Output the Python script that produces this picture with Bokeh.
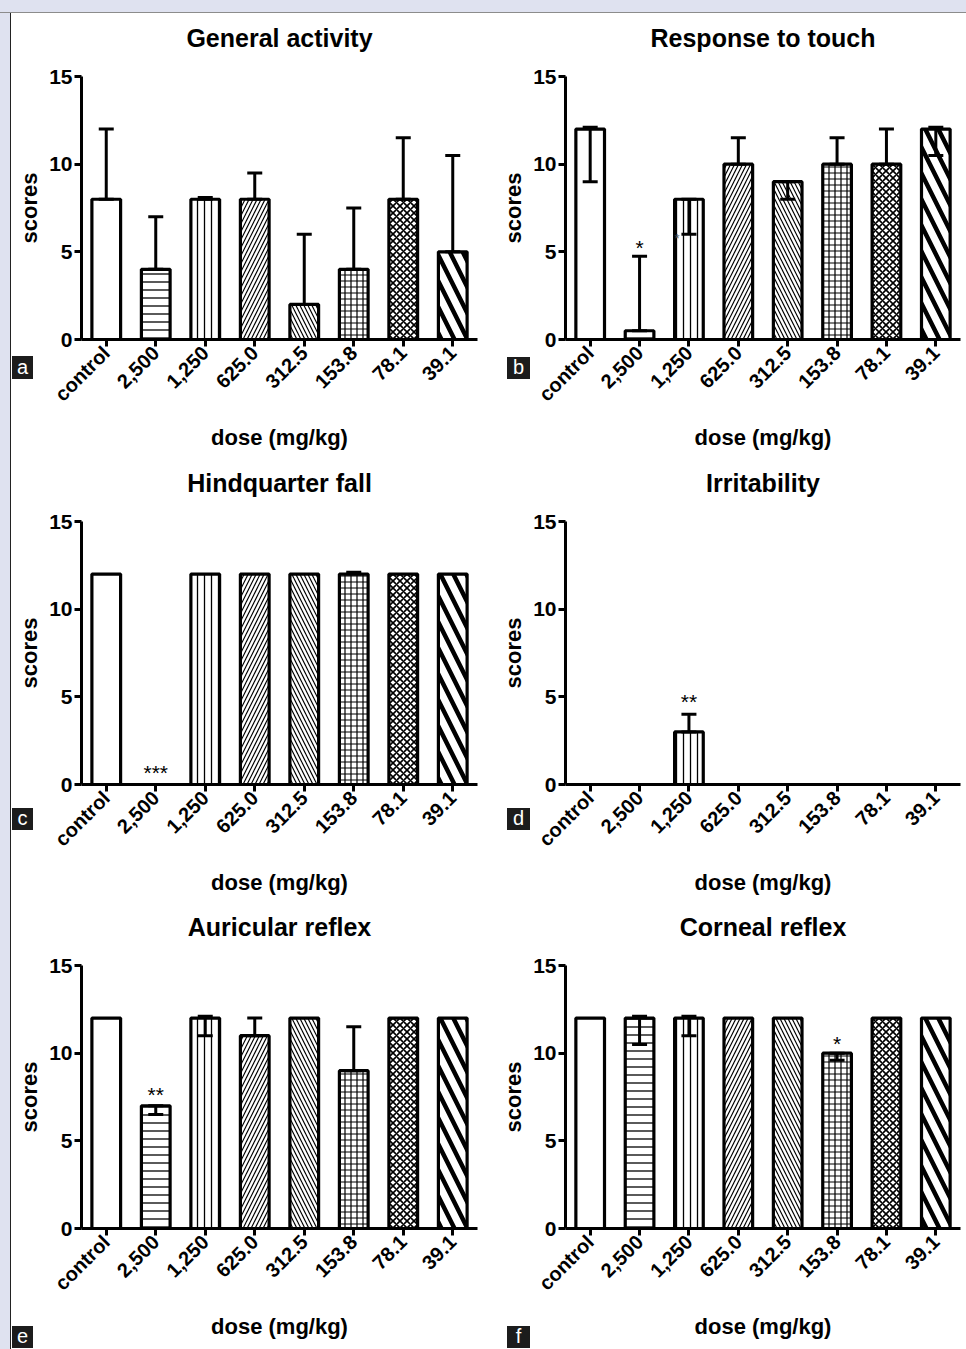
import math
from bokeh.plotting import figure
from bokeh.models import (ColumnDataSource, Range1d, FixedTicker, Whisker, TeeHead,
                          Div, Title)
from bokeh.layouts import column, row
from bokeh.embed import file_html
from bokeh.resources import INLINE
from bokeh.core.properties import value

# ---------------- data ----------------
categories = ["control", "2,500", "1,250", "625.0", "312.5", "153.8", "78.1", "39.1"]
x_label = "dose (mg/kg)"
y_label = "scores"
y_ticks = [0, 5, 10, 15]

titles = ["General activity", "Response to touch", "Hindquarter fall",
          "Irritability", "Auricular reflex", "Corneal reflex"]
panel_letters = ["a", "b", "c", "d", "e", "f"]

general_activity = [8, 4, 8, 8, 2, 4, 8, 5]
general_activity_lo = [8, 4, 8, 8, 2, 4, 8, 5]
general_activity_hi = [12, 7, 8.1, 9.5, 6, 7.5, 11.5, 10.5]

response_to_touch = [12, 0.5, 8, 10, 9, 10, 10, 12]
response_to_touch_lo = [9, 0.5, 6, 10, 8, 10, 10, 10.5]
response_to_touch_hi = [12.1, 4.75, 8, 11.5, 9, 11.5, 12, 12.1]

hindquarter_fall = [12, 0, 12, 12, 12, 12, 12, 12]
hindquarter_fall_lo = [12, 0, 12, 12, 12, 12, 12, 12]
hindquarter_fall_hi = [12, 0, 12, 12, 12, 12.1, 12, 12]

irritability = [0, 0, 3, 0, 0, 0, 0, 0]
irritability_lo = [0, 0, 3, 0, 0, 0, 0, 0]
irritability_hi = [0, 0, 4, 0, 0, 0, 0, 0]

auricular_reflex = [12, 7, 12, 11, 12, 9, 12, 12]
auricular_reflex_lo = [12, 6.5, 11, 11, 12, 9, 12, 12]
auricular_reflex_hi = [12, 7, 12.1, 12, 12, 11.5, 12, 12]

corneal_reflex = [12, 12, 12, 12, 12, 10, 12, 12]
corneal_reflex_lo = [12, 10.5, 11, 12, 12, 9.6, 12, 12]
corneal_reflex_hi = [12, 12.1, 12.1, 12, 12, 10, 12, 12]

# significance marks per panel: category, y (score units), text
sig_a = ([], [], [])
sig_b = (["2,500"], [5.6], ["*"])
sig_c = (["2,500"], [1.0], ["***"])
sig_d = (["1,250"], [5.1], ["**"])
sig_e = (["2,500"], [8.0], ["**"])
sig_f = (["153.8"], [10.9], ["*"])
faint_b = (["1,250"], [6.0], ["*"])

panels = [
    (general_activity, general_activity_lo, general_activity_hi, sig_a),
    (response_to_touch, response_to_touch_lo, response_to_touch_hi, sig_b),
    (hindquarter_fall, hindquarter_fall_lo, hindquarter_fall_hi, sig_c),
    (irritability, irritability_lo, irritability_hi, sig_d),
    (auricular_reflex, auricular_reflex_lo, auricular_reflex_hi, sig_e),
    (corneal_reflex, corneal_reflex_lo, corneal_reflex_hi, sig_f),
]

# ---------------- styles ----------------
FONT = "Liberation Sans"
BG = "#dfe2f0"
bar_hatch = ["blank", "horizontal_line", "vertical_line", "right_diagonal_line",
             "left_diagonal_line", "cross", "diagonal_cross", "left_diagonal_line"]
bar_hatch_scale = [12, 8, 7, 8, 8, 6, 7, 26]
bar_hatch_weight = [1, 1.3, 1.3, 1.2, 1.2, 1.2, 1.6, 4.5]

row_heights = [445, 444, 447]
row_bottom = [119, 118, 121]
# panel-letter boxes on the page: left, top, width, height (pixels)
letter_boxes = [(12, 356, 21, 23), (507, 357, 23, 22), (12, 808, 21, 22),
                (507, 808, 23, 22), (12, 1326, 21, 22), (507, 1326, 23, 22)]


def make_panel(i):
    vals, lo, hi, sig = panels[i]
    left = (i % 2 == 0)
    r = i // 2
    p = figure(width=472 if left else 483, height=row_heights[r],
               x_range=categories, y_range=Range1d(0, 15),
               output_backend="svg", toolbar_location=None, tools="",
               min_border_left=70 if left else 82,
               min_border_right=6,
               min_border_top=63, min_border_bottom=row_bottom[r])
    p.outline_line_color = None
    p.grid.grid_line_color = None
    p.background_fill_color = "white"
    p.border_fill_color = "white"

    # invisible spacer between the title and the frame
    p.add_layout(Title(text=" ", text_font_size="1px", standoff=13), "above")

    p.title.text = titles[i]
    p.title.align = "center"
    p.title.text_font = FONT
    p.title.text_font_size = "25px"
    p.title.text_font_style = "bold"
    p.title.text_color = "black"
    p.title.standoff = 17

    src = ColumnDataSource(dict(x=categories, top=vals, hatch=bar_hatch,
                                hs=bar_hatch_scale, hw=bar_hatch_weight))
    p.vbar(x="x", top="top", bottom=0, width=0.58, source=src,
           fill_color="white", line_color="black", line_width=3.2,
           hatch_pattern="hatch", hatch_scale="hs", hatch_weight="hw",
           hatch_color="black")

    wb, wl, wu = [], [], []
    for c, v, l, h in zip(categories, vals, lo, hi):
        if l < v or h > v:
            wb.append(c); wl.append(l); wu.append(h)
    if wb:
        wsrc = ColumnDataSource(dict(base=wb, lower=wl, upper=wu))
        w = Whisker(base="base", lower="lower", upper="upper", source=wsrc,
                    line_width=3, line_color="black", level="annotation",
                    upper_head=TeeHead(size=15, line_width=3, line_color="black"),
                    lower_head=TeeHead(size=15, line_width=3, line_color="black"))
        p.add_layout(w)

    if sig[0]:
        p.text(x=sig[0], y=sig[1], text=sig[2], text_align="center",
               text_baseline="middle", text_font=value(FONT),
               text_font_size="21px", text_color="black", y_offset=6)
    if i == 1:
        p.text(x=faint_b[0], y=faint_b[1], text=faint_b[2], text_align="center",
               text_baseline="middle", text_font=value(FONT),
               text_font_size="13px", text_color="#555555", x_offset=-12, y_offset=4)

    for ax in (p.xaxis[0], p.yaxis[0]):
        ax.axis_line_width = 3
        ax.axis_line_color = "black"
        ax.major_tick_line_width = 3
        ax.major_tick_line_color = "black"
        ax.major_tick_out = 7
        ax.major_tick_in = 0
        ax.minor_tick_line_color = None
        ax.major_label_text_font = FONT
        ax.major_label_text_font_style = "bold"
        ax.major_label_text_color = "black"
        ax.axis_label_text_font = FONT
        ax.axis_label_text_font_style = "bold"
        ax.axis_label_text_font_size = "22px"
        ax.axis_label_text_color = "black"

    p.yaxis.ticker = FixedTicker(ticks=y_ticks)
    p.yaxis.major_label_text_font_size = "21px"
    p.yaxis.major_label_standoff = 2
    p.yaxis.axis_label = y_label
    p.yaxis.axis_label_standoff = 4

    p.xaxis.major_label_text_font_size = "20px"
    p.xaxis.major_label_orientation = math.pi / 4
    p.xaxis.major_label_standoff = 3
    p.xaxis.axis_label = x_label
    p.xaxis.axis_label_standoff = 9
    p.x_range.range_padding = 0
    return p


figs = [make_panel(i) for i in range(6)]
grid = column(row(figs[0], figs[1]), row(figs[2], figs[3]), row(figs[4], figs[5]))

letters_html = "".join(
    '<div style="position:absolute;left:%dpx;top:%dpx;width:%dpx;height:%dpx;'
    'background:#1c1c1c;color:#ffffff;font-family:\'Liberation Sans\',Arial,sans-serif;'
    'font-size:20px;line-height:%dpx;text-align:center;overflow:hidden;">%s</div>'
    % (lx, ly, lw, lh, lh - 1, ch)
    for (lx, ly, lw, lh), ch in zip(letter_boxes, panel_letters))

top_strip = Div(text=letters_html, width=966, height=13, margin=(0, 0, 0, 0),
                styles={"background-color": BG, "border-bottom": "1px solid #8c8c8c",
                        "box-sizing": "border-box", "position": "relative",
                        "overflow": "visible", "z-index": "10"})
left_strip = Div(text="", width=11, height=1336, margin=(0, 0, 0, 0),
                 styles={"background-color": BG, "border-right": "1px solid #222222",
                         "box-sizing": "border-box"})
layout = column(top_strip, row(left_strip, grid))

open("out.html", "w").write(file_html(layout, INLINE))
